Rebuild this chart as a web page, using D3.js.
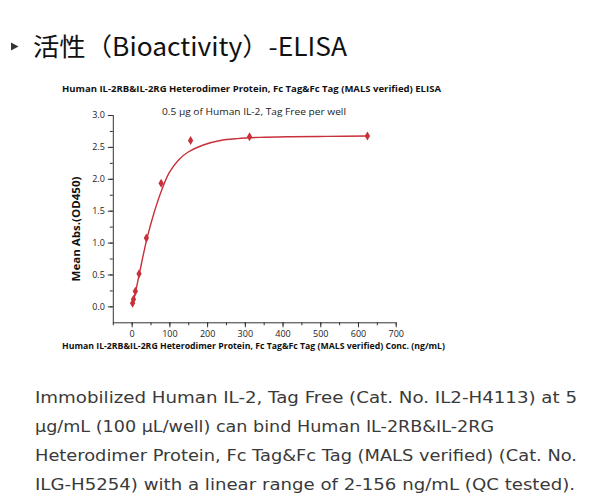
<!DOCTYPE html>
<html><head><meta charset="utf-8">
<script src="https://cdn.jsdelivr.net/npm/d3@7"></script>
<style>body{margin:0;background:#fff}svg{display:block}</style>
</head><body>
<script>
// data
const conc = [2.44, 4.88, 9.77, 19.53, 39.06, 78.13, 156.25, 312.5, 625];
const od = [0.05, 0.11, 0.235, 0.51, 1.07, 1.93, 2.60, 2.66, 2.67];
const fitConc = [2.0, 5, 10, 20, 40, 60, 80, 100, 125, 150, 190, 235, 280, 340, 420, 520, 625];
const fitOD = [0.03, 0.10, 0.22, 0.50, 1.05, 1.48, 1.83, 2.10, 2.30, 2.42, 2.53, 2.60, 2.63, 2.65, 2.66, 2.665, 2.67];
const xMajor = [0, 100, 200, 300, 400, 500, 600, 700];
const yMajor = [0.0, 0.5, 1.0, 1.5, 2.0, 2.5, 3.0];
const paragraph = [
  "Immobilized Human IL-2, Tag Free (Cat. No. IL2-H4113) at 5",
  "μg/mL (100 μL/well) can bind Human IL-2RB&IL-2RG",
  "Heterodimer Protein, Fc Tag&Fc Tag (MALS verified) (Cat. No.",
  "ILG-H5254) with a linear range of 2-156 ng/mL (QC tested)."
];

const W = 600, H = 503;
const red = "#c8303a", axisCol = "#333";
const svg = d3.select("body").append("svg").attr("width", W).attr("height", H);

// header
svg.append("path").attr("d", "M11,42.5 L11,50.5 L18.5,46.5 Z").attr("fill", "#333");
svg.append("text").attr("x", 33).attr("y", 56)
  .attr("font-family", "'Noto Sans CJK SC', 'Noto Sans', sans-serif").attr("font-size", 25)
  .attr("fill", "#111").attr("textLength", 314).attr("lengthAdjust", "spacingAndGlyphs")
  .text("活性（Bioactivity）-ELISA");

// chart
const x = d3.scaleLinear().domain([-50, 700]).range([112.8, 395.7]);
const y = d3.scaleLinear().domain([-0.25, 3.0]).range([322.3, 115]);
const f = "'Open Sans', 'Liberation Sans', sans-serif";

svg.append("text").attr("x", 62).attr("y", 92).attr("font-family", f).attr("font-size", 9)
  .attr("font-weight", "bold").attr("fill", "#111").attr("textLength", 379).attr("lengthAdjust", "spacingAndGlyphs")
  .text("Human IL-2RB&IL-2RG Heterodimer Protein, Fc Tag&Fc Tag (MALS verified) ELISA");
svg.append("text").attr("x", 162).attr("y", 115).attr("font-family", f).attr("font-size", 9.5)
  .attr("fill", "#222").attr("textLength", 184).attr("lengthAdjust", "spacingAndGlyphs")
  .text("0.5 μg of Human IL-2, Tag Free per well");

// x axis
const gx = svg.append("g").attr("transform", `translate(0,${y.range()[0]})`);
gx.call(d3.axisBottom(x).tickValues(d3.range(-50, 701, 50)).tickSize(3).tickFormat(""));
const gx2 = svg.append("g").attr("transform", `translate(0,${y.range()[0]})`);
gx2.call(d3.axisBottom(x).tickValues(xMajor).tickSize(5).tickSizeOuter(0).tickPadding(3).tickFormat(d3.format("d")));
[gx, gx2].forEach(g => { g.select(".domain").attr("stroke", axisCol); g.selectAll(".tick line").attr("stroke", axisCol); });
gx2.selectAll("text").attr("font-family", f).attr("font-size", 9).attr("fill", "#222");
gx.select(".domain").attr("d", `M${x.range()[0]},0.5H${x.range()[1]}`);
gx2.select(".domain").remove();

// y axis
const gy = svg.append("g").attr("transform", `translate(${x.range()[0]},0)`);
gy.call(d3.axisLeft(y).tickValues(d3.range(0, 3.01, 0.25)).tickSize(3).tickFormat(""));
const gy2 = svg.append("g").attr("transform", `translate(${x.range()[0]},0)`);
gy2.call(d3.axisLeft(y).tickValues(yMajor).tickSize(5).tickPadding(3).tickFormat(d3.format(".1f")));
gy.select(".domain").attr("d", `M0.5,${y(3.0)}V${y.range()[0]}`).attr("stroke", axisCol);
gy2.select(".domain").remove();
[gy, gy2].forEach(g => g.selectAll(".tick line").attr("stroke", axisCol));
gy2.selectAll("text").attr("font-family", f).attr("font-size", 9).attr("fill", "#222");

// axis titles
svg.append("text").attr("x", 62).attr("y", 349).attr("font-family", f).attr("font-size", 9)
  .attr("font-weight", "bold").attr("fill", "#111").attr("textLength", 383).attr("lengthAdjust", "spacingAndGlyphs")
  .text("Human IL-2RB&IL-2RG Heterodimer Protein, Fc Tag&Fc Tag (MALS verified) Conc. (ng/mL)");
svg.append("text").attr("transform", "translate(80,229) rotate(-90)").attr("text-anchor", "middle")
  .attr("font-family", f).attr("font-size", 10.5).attr("font-weight", "bold").attr("fill", "#111")
  .attr("textLength", 105).attr("lengthAdjust", "spacingAndGlyphs")
  .text("Mean Abs.(OD450)");

// fit curve
const line = d3.line().x((d, i) => x(fitConc[i])).y((d, i) => y(fitOD[i])).curve(d3.curveCatmullRom.alpha(0.5));
svg.append("path").attr("d", line(fitConc)).attr("fill", "none").attr("stroke", red).attr("stroke-width", 1.4);

// points
svg.append("g").selectAll("path").data(conc).join("path")
  .attr("transform", (d, i) => `translate(${x(d)},${y(od[i])})`)
  .attr("d", d3.symbol().type(d3.symbolDiamond).size(24))
  .attr("fill", red);

// paragraph
const lens = [542, 459, 542, 540];
svg.append("g").selectAll("text").data(paragraph).join("text")
  .attr("x", 35).attr("y", (d, i) => 403 + i * 29)
  .attr("font-family", "'DejaVu Sans', Verdana, sans-serif").attr("font-size", 16)
  .attr("fill", "#3a3a3a")
  .attr("textLength", (d, i) => lens[i]).attr("lengthAdjust", "spacingAndGlyphs")
  .text(d => d);
</script>
</body></html>
